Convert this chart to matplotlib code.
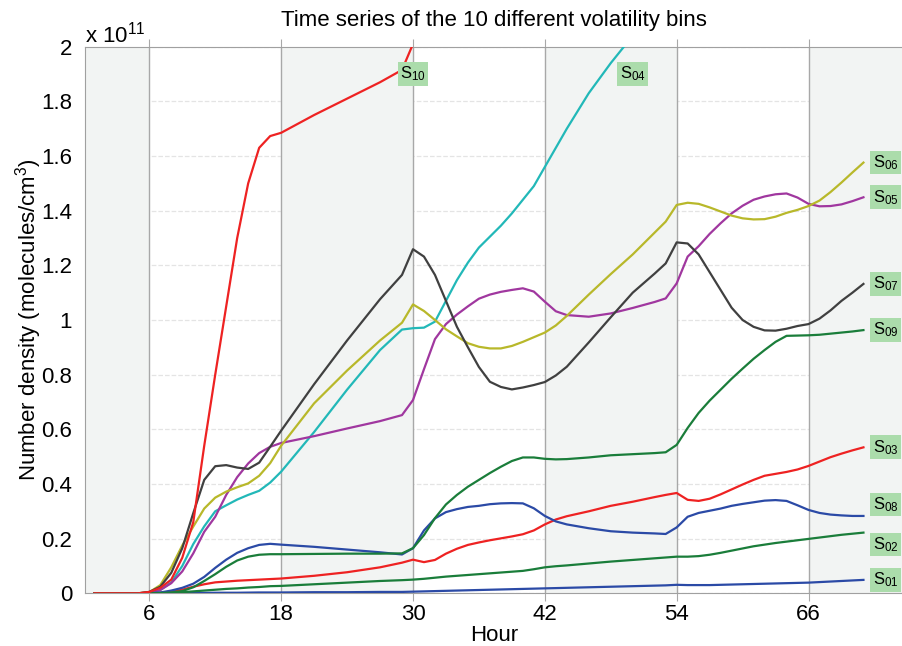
import numpy as np
import matplotlib
matplotlib.use("Agg")
import matplotlib.pyplot as plt
from matplotlib.ticker import FuncFormatter

plt.rcParams["font.family"] = ["Liberation Sans", "DejaVu Sans"]
plt.rcParams["mathtext.default"] = "regular"

# hours of the model output (values in units of 1e11 molecules/cm3)
hours = [1, 5, 6, 7, 8, 9, 10, 11, 12, 13, 14, 15, 16, 17, 18, 21, 24, 27, 29,
         30, 31, 32, 33, 34, 35, 36, 37, 38, 39, 40, 41, 42, 43, 44, 46, 48, 50,
         52, 53, 54, 55, 56, 57, 58, 59, 60, 61, 62, 63, 64, 65, 66, 67, 68, 69,
         70, 71]
nan = np.nan

s01 = [0, 0, 0, 0, 0.0005, 0.001, 0.001, 0.0015, 0.002, 0.002, 0.002, 0.0025, 0.003, 0.003, 0.003,
       0.004, 0.004, 0.005, 0.005, 0.006, 0.007, 0.008, 0.009, 0.010, 0.011, 0.012, 0.013, 0.014,
       0.015, 0.016, 0.017, 0.018, 0.019, 0.020, 0.022, 0.024, 0.026, 0.028, 0.029, 0.031, 0.030,
       0.030, 0.030, 0.031, 0.032, 0.033, 0.034, 0.035, 0.036, 0.037, 0.038, 0.039, 0.041, 0.043,
       0.045, 0.047, 0.049]
s02 = [0, 0, 0, 0.001, 0.002, 0.004, 0.007, 0.010, 0.013, 0.016, 0.018, 0.021, 0.023, 0.026, 0.027,
       0.033, 0.039, 0.045, 0.048, 0.050, 0.053, 0.057, 0.061, 0.064, 0.067, 0.070, 0.073, 0.076,
       0.079, 0.082, 0.088, 0.095, 0.099, 0.102, 0.109, 0.116, 0.122, 0.128, 0.131, 0.134, 0.134,
       0.136, 0.141, 0.148, 0.156, 0.164, 0.172, 0.178, 0.184, 0.189, 0.194, 0.199, 0.204, 0.209,
       0.214, 0.218, 0.222]
s03 = [0, 0, 0, 0.002, 0.005, 0.013, 0.024, 0.033, 0.040, 0.043, 0.046, 0.048, 0.050, 0.052, 0.054,
       0.064, 0.077, 0.095, 0.112, 0.123, 0.114, 0.122, 0.145, 0.163, 0.177, 0.186, 0.194, 0.201,
       0.208, 0.216, 0.230, 0.252, 0.270, 0.282, 0.300, 0.320, 0.335, 0.352, 0.360, 0.367, 0.342,
       0.338, 0.346, 0.362, 0.380, 0.398, 0.415, 0.430, 0.437, 0.444, 0.453, 0.466, 0.482, 0.498,
       0.511, 0.523, 0.534]
s04 = [0, 0, 0.002, 0.012, 0.040, 0.100, 0.180, 0.245, 0.300, 0.322, 0.343, 0.360, 0.375, 0.405,
       0.445, 0.590, 0.745, 0.890, 0.965, 0.970, 0.972, 0.994, 1.070, 1.146, 1.210, 1.265, 1.305,
       1.345, 1.390, 1.440, 1.490, 1.560, 1.630, 1.700, 1.830, 1.940, 2.040, 2.150, nan, nan, nan,
       nan, nan, nan, nan, nan, nan, nan, nan, nan, nan, nan, nan, nan, nan, nan, nan]
s05 = [0, 0, 0.003, 0.012, 0.037, 0.080, 0.146, 0.225, 0.280, 0.360, 0.425, 0.475, 0.513, 0.536,
       0.550, 0.575, 0.603, 0.630, 0.652, 0.707, 0.820, 0.930, 0.985, 1.020, 1.050, 1.078, 1.093,
       1.103, 1.110, 1.116, 1.104, 1.067, 1.032, 1.018, 1.012, 1.024, 1.044, 1.066, 1.079, 1.134,
       1.232, 1.270, 1.315, 1.354, 1.390, 1.418, 1.440, 1.452, 1.460, 1.463, 1.448, 1.425, 1.416,
       1.417, 1.423, 1.435, 1.449]
s06 = [0, 0, 0.004, 0.030, 0.095, 0.175, 0.244, 0.310, 0.350, 0.372, 0.388, 0.402, 0.430, 0.476,
       0.540, 0.695, 0.815, 0.925, 0.990, 1.057, 1.033, 1.000, 0.966, 0.940, 0.915, 0.902, 0.896,
       0.896, 0.905, 0.920, 0.937, 0.954, 0.980, 1.015, 1.093, 1.168, 1.240, 1.320, 1.360, 1.421,
       1.429, 1.425, 1.412, 1.397, 1.382, 1.372, 1.368, 1.369, 1.378, 1.392, 1.403, 1.417, 1.437,
       1.468, 1.503, 1.540, 1.576]
s07 = [0, 0, 0.005, 0.024, 0.075, 0.165, 0.293, 0.415, 0.465, 0.469, 0.460, 0.455, 0.478, 0.536,
       0.595, 0.765, 0.925, 1.076, 1.165, 1.259, 1.232, 1.165, 1.070, 0.975, 0.900, 0.828, 0.774,
       0.755, 0.746, 0.753, 0.762, 0.773, 0.797, 0.829, 0.918, 1.010, 1.100, 1.170, 1.207, 1.284,
       1.280, 1.240, 1.175, 1.110, 1.045, 1.000, 0.975, 0.962, 0.961, 0.968, 0.978, 0.985, 1.005,
       1.035, 1.070, 1.100, 1.132]
s08 = [0, 0, 0.001, 0.003, 0.010, 0.020, 0.035, 0.060, 0.093, 0.123, 0.148, 0.165, 0.177, 0.181,
       0.178, 0.170, 0.160, 0.150, 0.142, 0.165, 0.230, 0.274, 0.297, 0.308, 0.316, 0.320, 0.326,
       0.329, 0.330, 0.329, 0.311, 0.283, 0.263, 0.252, 0.238, 0.227, 0.222, 0.219, 0.217, 0.241,
       0.280, 0.294, 0.302, 0.310, 0.320, 0.327, 0.333, 0.339, 0.341, 0.338, 0.322, 0.305, 0.294,
       0.288, 0.285, 0.283, 0.283]
s09 = [0, 0, 0, 0.001, 0.003, 0.008, 0.022, 0.045, 0.070, 0.097, 0.120, 0.134, 0.141, 0.143, 0.143,
       0.144, 0.145, 0.145, 0.146, 0.165, 0.213, 0.275, 0.325, 0.360, 0.390, 0.415, 0.440, 0.463,
       0.484, 0.497, 0.497, 0.492, 0.490, 0.491, 0.497, 0.505, 0.509, 0.513, 0.516, 0.543, 0.605,
       0.660, 0.705, 0.745, 0.785, 0.822, 0.858, 0.890, 0.920, 0.942, 0.943, 0.944, 0.946, 0.950,
       0.954, 0.958, 0.963]
s10 = [0, 0, 0.005, 0.020, 0.050, 0.130, 0.260, 0.540, 0.800, 1.050, 1.300, 1.500, 1.630, 1.673,
       1.685, 1.750, 1.810, 1.870, 1.915, 2.010, 2.200, nan, nan, nan, nan, nan, nan, nan, nan,
       nan, nan, nan, nan, nan, nan, nan, nan, nan, nan, nan, nan, nan, nan, nan, nan, nan, nan,
       nan, nan, nan, nan, nan, nan, nan, nan, nan, nan]

series = [s01, s02, s03, s04, s05, s06, s07, s08, s09, s10]
names = ["01", "02", "03", "04", "05", "06", "07", "08", "09", "10"]
colors = ["#2b4aa6", "#1a7d3a", "#ee2222", "#22b8b8", "#a0379f",
          "#b8b82a", "#404040", "#2b4aa6", "#1a7d3a", "#ee2222"]
# label nudges so the boxes at the right edge do not overlap
label_shift = [0, -0.043, 0, 0, 0, 0, 0, 0.042, 0, 0]
top_labels = {"04": (50, 1.9), "10": (30, 1.9)}

xticks = [6, 18, 30, 42, 54, 66]
nights = [(0, 6), (18, 30), (42, 54), (66, 78)]

fig = plt.figure(figsize=(9.03, 6.46), dpi=100)
ax = fig.add_axes([0.0938, 0.0816, 0.9062, 0.8461])

ax.set_axisbelow(True)
ax.yaxis.grid(True, linestyle="--", color="#e4e4e4", linewidth=0.9)
for a, b in nights:
    ax.axvspan(a, b, color="#f2f4f3", zorder=1, lw=0)
for xt in xticks:
    ax.axvline(xt, color="#a8a8a8", lw=1, zorder=1.5)

for name, vals, col, dy in zip(names, series, colors, label_shift):
    ax.plot(hours, vals, color=col, lw=1.6, zorder=3)
    if name in top_labels:
        lx, ly = top_labels[name]
    else:
        lx, ly = hours[-1] + 2, vals[-1] + dy
    ax.text(lx, ly, "S$_{" + name + "}$", ha="center", va="center", fontsize=12,
            zorder=5, bbox=dict(boxstyle="square,pad=0.15", fc="#abdcab", ec="none"))

ax.set_xlim(0.12, 74.6)
ax.set_ylim(0, 2)
ax.set_xticks(xticks)
ax.set_yticks(np.arange(0, 2.01, 0.2))
ax.yaxis.set_major_formatter(FuncFormatter(lambda v, p: "%g" % round(v, 1)))
ax.tick_params(axis="x", top=True, bottom=True, direction="out", length=6,
               color="#a8a8a8", labelsize=16, pad=2)
ax.tick_params(axis="y", length=0, labelsize=16, pad=9)

for side in ["left", "bottom", "top"]:
    ax.spines[side].set_color("#a0a0a0")
ax.spines["right"].set_visible(False)

ax.set_xlabel("Hour", fontsize=16, labelpad=0)
ax.set_ylabel("Number density (molecules/cm$^3$)", fontsize=16, labelpad=-2)
ax.set_title("Time series of the 10 different volatility bins", fontsize=16, pad=15)
ax.text(0.0, 0.998, "x 10$^{11}$", transform=ax.transAxes, fontsize=16,
        ha="left", va="bottom")

fig.savefig("out.png", dpi=100)
